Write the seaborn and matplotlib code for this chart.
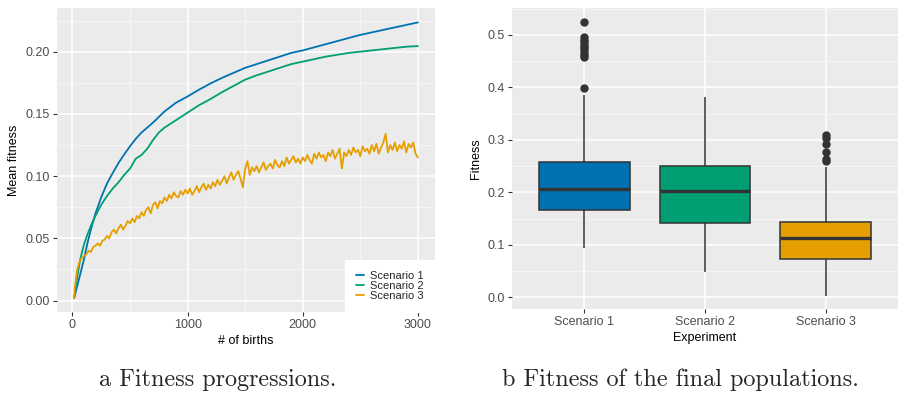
import matplotlib
matplotlib.use("Agg")
import matplotlib.pyplot as plt
import seaborn as sns
import pandas as pd
from matplotlib.ticker import MultipleLocator
from matplotlib.lines import Line2D

# ---------------- data ----------------
scenarios = ["Scenario 1", "Scenario 2", "Scenario 3"]
colors = ["#0072B2", "#009E73", "#E69F00"]

s1_births = [15, 40, 70, 100, 130, 160, 200, 250, 300, 350, 400, 450, 500, 550, 600, 650, 700,
             800, 900, 1000, 1100, 1200, 1300, 1400, 1500, 1600, 1700, 1800, 1900, 2000,
             2100, 2200, 2300, 2400, 2500, 2600, 2700, 2800, 2900, 3000]
s1_fitness = [0.002, 0.011, 0.022, 0.033, 0.046, 0.057, 0.070, 0.083, 0.094, 0.1025, 0.1105, 0.1175,
              0.124, 0.130, 0.135, 0.139, 0.143, 0.152, 0.159, 0.164, 0.1695, 0.1745, 0.179, 0.183,
              0.187, 0.190, 0.193, 0.196, 0.199, 0.201, 0.2035, 0.206, 0.2085, 0.211, 0.2135,
              0.2155, 0.2175, 0.2195, 0.2215, 0.2235]

s2_births = [15, 40, 70, 100, 130, 160, 200, 250, 300, 350, 400, 450, 500, 550, 600, 650, 700,
             750, 800, 900, 1000, 1100, 1200, 1300, 1400, 1500, 1600, 1700, 1800, 1900, 2000,
             2100, 2200, 2300, 2400, 2500, 2600, 2700, 2800, 2900, 3000]
s2_fitness = [0.002, 0.018, 0.034, 0.045, 0.053, 0.060, 0.068, 0.077, 0.084, 0.090, 0.095, 0.101,
              0.106, 0.114, 0.117, 0.122, 0.129, 0.135, 0.139, 0.145, 0.151, 0.157, 0.162, 0.1675,
              0.1725, 0.1775, 0.181, 0.184, 0.187, 0.190, 0.192, 0.194, 0.196, 0.1975, 0.199,
              0.200, 0.201, 0.202, 0.203, 0.204, 0.2045]

s3_births = [15] + list(range(20, 3001, 20))
s3_fitness = [0.002,
    0.010, 0.024, 0.031, 0.034, 0.036, 0.037, 0.040, 0.039, 0.043, 0.044,
    0.046, 0.044, 0.048, 0.049, 0.052, 0.050, 0.055, 0.057, 0.054, 0.058,
    0.061, 0.057, 0.060, 0.064, 0.062, 0.066, 0.063, 0.068, 0.066, 0.071,
    0.068, 0.073, 0.075, 0.070, 0.077, 0.079, 0.074, 0.080, 0.078, 0.083,
    0.080, 0.085, 0.082, 0.087, 0.084, 0.083, 0.088, 0.085, 0.089, 0.086,
    0.090, 0.085, 0.088, 0.092, 0.087, 0.091, 0.094, 0.089, 0.093, 0.090,
    0.095, 0.092, 0.097, 0.093, 0.096, 0.100, 0.094, 0.099, 0.103, 0.097,
    0.101, 0.104, 0.098, 0.091, 0.106, 0.112, 0.101, 0.107, 0.104, 0.108,
    0.103, 0.107, 0.111, 0.105, 0.108, 0.110, 0.106, 0.113, 0.109, 0.107,
    0.112, 0.108, 0.115, 0.110, 0.113, 0.116, 0.111, 0.114, 0.110, 0.115,
    0.112, 0.117, 0.113, 0.110, 0.118, 0.114, 0.119, 0.115, 0.117, 0.112,
    0.119, 0.116, 0.121, 0.114, 0.118, 0.122, 0.106, 0.119, 0.116, 0.121,
    0.117, 0.123, 0.119, 0.121, 0.116, 0.124, 0.120, 0.122, 0.118, 0.125,
    0.120, 0.126, 0.118, 0.123, 0.127, 0.134, 0.119, 0.125, 0.121, 0.127,
    0.120, 0.125, 0.122, 0.128, 0.119, 0.126, 0.123, 0.127, 0.118, 0.115]

# box-plot summaries
box_low = [0.095, 0.049, 0.003]
box_q1 = [0.166, 0.141, 0.0725]
box_median = [0.207, 0.203, 0.114]
box_q3 = [0.258, 0.250, 0.1445]
box_high = [0.385, 0.382, 0.249]
box_outliers = [
    [0.398, 0.458, 0.462, 0.467, 0.472, 0.476, 0.480, 0.486, 0.490, 0.495, 0.524],
    [],
    [0.260, 0.264, 0.276, 0.292, 0.304, 0.309],
]

caption_a = "a Fitness progressions."
caption_b = "b Fitness of the final populations."

# ---------------- build tables ----------------
line_df = pd.concat([
    pd.DataFrame({"births": b, "fitness": f, "scenario": s})
    for b, f, s in zip([s1_births, s2_births, s3_births],
                       [s1_fitness, s2_fitness, s3_fitness], scenarios)
], ignore_index=True)

rows = []
for i, s in enumerate(scenarios):
    vals = ([box_low[i]] + [box_q1[i]] * 20 + [box_median[i]] * 20 +
            [box_q3[i]] * 20 + [box_high[i]] + box_outliers[i])
    rows += [(s, v) for v in vals]
box_df = pd.DataFrame(rows, columns=["Experiment", "Fitness"])

# ---------------- style ----------------
sns.set_theme(style="darkgrid", rc={
    "axes.facecolor": "#EBEBEB",
    "grid.color": "white",
    "axes.edgecolor": "none",
    "xtick.color": "#333333",
    "ytick.color": "#333333",
    "xtick.labelcolor": "#4D4D4D",
    "ytick.labelcolor": "#4D4D4D",
    "axes.labelcolor": "black",
})
plt.rcParams["font.family"] = ["Liberation Sans", "DejaVu Sans"]

fig = plt.figure(figsize=(8.98, 3.93), dpi=100)
W, H = 898, 393

def add_ax(l, r, t, b):
    return fig.add_axes([l / W, 1 - b / H, (r - l) / W, (b - t) / H])

axL = add_ax(57, 435, 8, 312)
axR = add_ax(512, 898, 8, 309)

# ---------------- left panel ----------------
sns.lineplot(data=line_df, x="births", y="fitness", hue="scenario",
             palette=colors, estimator=None, linewidth=1.3, ax=axL, legend=False)
axL.set_xlim(-134, 3149)
axL.set_ylim(-0.0092, 0.2351)
axL.xaxis.set_major_locator(MultipleLocator(1000))
axL.xaxis.set_minor_locator(MultipleLocator(500))
axL.yaxis.set_major_locator(MultipleLocator(0.05))
axL.yaxis.set_minor_locator(MultipleLocator(0.025))
axL.yaxis.set_major_formatter(matplotlib.ticker.FormatStrFormatter("%.2f"))
axL.set_xlabel("# of births", fontsize=9, labelpad=3)
axL.set_ylabel("Mean fitness", fontsize=9, labelpad=4)

handles = [Line2D([], [], color=c, lw=1.3) for c in colors]
leg = axL.legend(handles, scenarios, loc="lower right", fontsize=8, frameon=True,
                 facecolor="white", edgecolor="white", framealpha=1, fancybox=False,
                 handlelength=0.7, handletextpad=0.6, labelspacing=0.0,
                 borderpad=1.0, borderaxespad=0.0)

# ---------------- right panel ----------------
sns.boxplot(data=box_df, x="Experiment", y="Fitness", hue="Experiment",
            palette=colors, saturation=1, width=0.75, linecolor="#333333", linewidth=1.1,
            whis=1.5, fliersize=5, showcaps=False, legend=False, ax=axR,
            medianprops=dict(color="#333333", linewidth=2.4),
            flierprops=dict(marker="o", markerfacecolor="#333333",
                            markeredgecolor="#333333"))
axR.set_xlim(-0.6, 2.6)
axR.set_ylim(-0.022, 0.551)
axR.yaxis.set_major_locator(MultipleLocator(0.1))
axR.yaxis.set_minor_locator(MultipleLocator(0.05))
axR.yaxis.set_major_formatter(matplotlib.ticker.FormatStrFormatter("%.1f"))
axR.set_xlabel("Experiment", fontsize=9, labelpad=3)
axR.set_ylabel("Fitness", fontsize=9, labelpad=4)

for ax in (axL, axR):
    ax.grid(which="major", color="white", linewidth=1.1)
    ax.grid(which="minor", color="#F7F7F7", linewidth=0.6)
    if ax is axR:
        ax.xaxis.grid(False, which="minor")
    ax.set_axisbelow(True)
    ax.tick_params(which="major", length=3, width=0.8, pad=2, labelsize=9,
                   bottom=True, left=True)
    ax.tick_params(which="minor", length=0, bottom=False, left=False)
    for sp in ax.spines.values():
        sp.set_visible(False)

# ---------------- captions ----------------
fig.text(218 / W, 1 - 380 / H, caption_a, ha="center", va="center",
         fontsize=17.4, family="cmr10")
fig.text(680 / W, 1 - 380 / H, caption_b, ha="center", va="center",
         fontsize=17.4, family="cmr10")

fig.savefig("out.png", dpi=100)
